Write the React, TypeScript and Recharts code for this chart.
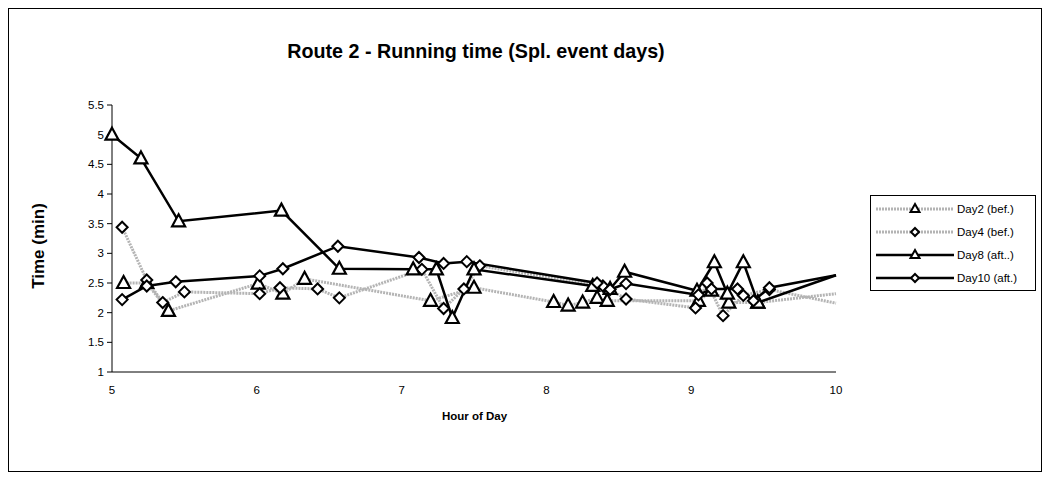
import React from 'react';
import { LineChart, Line, XAxis, YAxis } from 'recharts';

// hour of day / running time (min)
// the 10:00 end point of each series carries no marker in the original
const day2Hours = [5.08, 5.24, 5.39, 6.01, 6.18, 6.33, 7.2, 7.5, 8.05, 8.15, 8.25, 8.35, 8.42, 9.05, 9.14, 9.26, 9.46, 10];
const day2Times = [2.5, 2.5, 2.03, 2.49, 2.32, 2.57, 2.2, 2.42, 2.18, 2.12, 2.17, 2.25, 2.2, 2.2, 2.37, 2.17, 2.17, 2.32];

const day4Hours = [5.07, 5.24, 5.35, 5.5, 6.02, 6.16, 6.42, 6.57, 7.14, 7.29, 7.43, 7.54, 8.39, 8.55, 9.03, 9.11, 9.22, 9.36, 9.54, 10];
const day4Times = [3.44, 2.55, 2.17, 2.35, 2.32, 2.42, 2.4, 2.25, 2.73, 2.07, 2.4, 2.79, 2.45, 2.23, 2.08, 2.5, 1.95, 2.29, 2.39, 2.16];

const day8Hours = [5, 5.2, 5.46, 6.17, 6.57, 7.08, 7.24, 7.35, 7.5, 8.32, 8.44, 8.54, 9.04, 9.16, 9.25, 9.36, 9.46, 10];
const day8Times = [5, 4.6, 3.54, 3.72, 2.74, 2.73, 2.73, 1.91, 2.73, 2.45, 2.4, 2.69, 2.37, 2.85, 2.32, 2.85, 2.17, 2.63];

const day10Hours = [5.07, 5.24, 5.44, 6.02, 6.18, 6.56, 7.12, 7.29, 7.45, 8.35, 8.44, 8.55, 9.05, 9.14, 9.32, 9.43, 9.54, 10];
const day10Times = [2.22, 2.45, 2.52, 2.62, 2.74, 3.12, 2.93, 2.83, 2.86, 2.5, 2.39, 2.49, 2.3, 2.4, 2.4, 2.2, 2.42, 2.63];

const xTicks = [5, 6, 7, 8, 9, 10];
const yTicks = [1, 1.5, 2, 2.5, 3, 3.5, 4, 4.5, 5, 5.5];

const toPoints = (hours: number[], times: number[]) => hours.map((h, i) => ({ x: h, y: times[i] }));

const FONT = '"Liberation Sans", Arial, sans-serif';
const GRAY = '#b4b4b4';

const Tri = ({ cx, cy }: any) => (
  <path
    d={`M${cx},${cy - 7} L${cx + 6.5},${cy + 5} L${cx - 6.5},${cy + 5} Z`}
    fill="#fff"
    stroke="#000"
    strokeWidth={2.2}
  />
);

const Dia = ({ cx, cy }: any) => (
  <path
    d={`M${cx},${cy - 5.5} L${cx + 5.5},${cy} L${cx},${cy + 5.5} L${cx - 5.5},${cy} Z`}
    fill="#fff"
    stroke="#000"
    strokeWidth={2}
  />
);

const series = [
  { name: 'Day2 (bef.)', data: toPoints(day2Hours, day2Times), color: GRAY, dash: '2 1', width: 3, Marker: Tri },
  { name: 'Day4 (bef.)', data: toPoints(day4Hours, day4Times), color: GRAY, dash: '2 1', width: 3, Marker: Dia },
  { name: 'Day8 (aft..)', data: toPoints(day8Hours, day8Times), color: '#000', dash: undefined, width: 2.5, Marker: Tri },
  { name: 'Day10 (aft.)', data: toPoints(day10Hours, day10Times), color: '#000', dash: undefined, width: 2.5, Marker: Dia },
];

const LegendBox = () => (
  <div
    style={{
      position: 'absolute',
      left: 861,
      top: 186,
      width: 166,
      height: 96,
      border: '1px solid #000',
      boxSizing: 'border-box',
      background: '#fff',
      fontSize: 11.5,
      paddingTop: 1,
    }}
  >
    {series.map((s) => (
      <div key={s.name} style={{ display: 'flex', alignItems: 'center', height: 23 }}>
        <svg width={82} height={16} style={{ marginLeft: 3 }}>
          <line x1={2} y1={8} x2={80} y2={8} stroke={s.color} strokeWidth={s.width} strokeDasharray={s.dash} />
          {s.Marker === Tri ? (
            <path d="M41,3 L45.5,11 L36.5,11 Z" fill="#fff" stroke="#000" strokeWidth={2} />
          ) : (
            <path d="M41,4 L45,8 L41,12 L37,8 Z" fill="#fff" stroke="#000" strokeWidth={2} />
          )}
        </svg>
        <span style={{ marginLeft: 1 }}>{s.name}</span>
      </div>
    ))}
  </div>
);

export default function App() {
  return (
    <div
      style={{
        position: 'relative',
        width: 1034,
        height: 464,
        border: '1px solid #000',
        boxSizing: 'border-box',
        background: '#fff',
        fontFamily: FONT,
      }}
    >
      <div
        style={{
          position: 'absolute',
          left: 0,
          width: 934,
          top: 31,
          textAlign: 'center',
          fontWeight: 'bold',
          fontSize: 19.7,
        }}
      >
        Route 2 - Running time (Spl. event days)
      </div>
      <div
        style={{
          position: 'absolute',
          left: 30,
          top: 237,
          transform: 'translate(-50%, -50%) rotate(-90deg)',
          fontWeight: 'bold',
          fontSize: 17,
          whiteSpace: 'nowrap',
        }}
      >
        Time (min)
      </div>
      <div
        style={{
          position: 'absolute',
          left: 104,
          width: 723,
          top: 401,
          textAlign: 'center',
          fontWeight: 'bold',
          fontSize: 11.5,
        }}
      >
        Hour of Day
      </div>
      <LineChart
        width={1032}
        height={462}
        margin={{ top: 96, right: 205, left: 0, bottom: 69 }}
        style={{ position: 'absolute', left: 0, top: 0 }}
      >
        <XAxis
          dataKey="x"
          type="number"
          domain={[5, 10]}
          ticks={xTicks}
          stroke="#000"
          tickLine={false}
          tick={{ fill: '#000', fontSize: 11.5, fontFamily: FONT }}
          height={30}
          tickMargin={8}
        />
        <YAxis
          dataKey="y"
          type="number"
          domain={[1, 5.5]}
          ticks={yTicks}
          stroke="#000"
          width={103}
          tickSize={5}
          tick={{ fill: '#000', fontSize: 11.5, fontFamily: FONT }}
          tickMargin={3}
        />
        {series.map((s) => (
          <Line
            key={s.name}
            name={s.name}
            data={s.data}
            dataKey="y"
            type="linear"
            stroke={s.color}
            strokeWidth={s.width}
            strokeDasharray={s.dash}
            isAnimationActive={false}
            dot={(p: any) =>
              p.payload.x >= 10 ? (
                <g key={`${s.name}-${p.index}`} />
              ) : (
                <s.Marker key={`${s.name}-${p.index}`} cx={p.cx} cy={p.cy} />
              )
            }
            activeDot={false}
          />
        ))}
      </LineChart>
      <LegendBox />
    </div>
  );
}
